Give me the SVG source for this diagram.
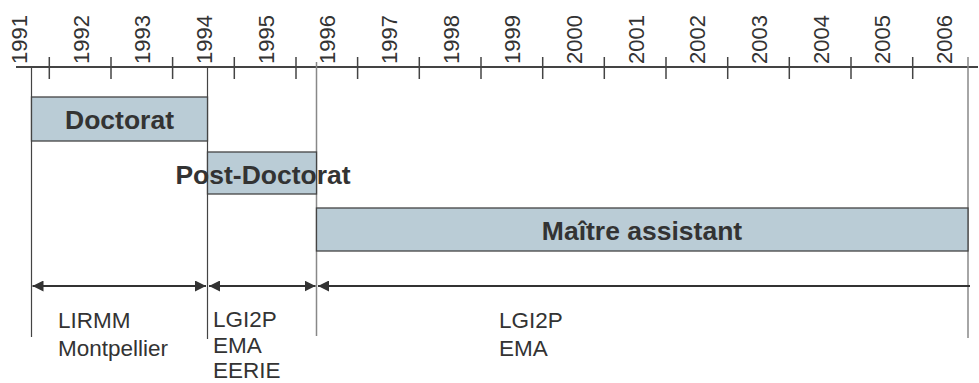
<svg xmlns="http://www.w3.org/2000/svg" width="979" height="383" viewBox="0 0 979 383">
<style>
.yr{font-family:"Liberation Sans",Arial,sans-serif;font-size:22px;fill:#333}
.bar{fill:#BACCD6;stroke:#444;stroke-width:1.3}
.bl{font-family:"Liberation Sans",Arial,sans-serif;font-size:26.5px;font-weight:bold;fill:#333;text-anchor:middle}
.lb{font-family:"Liberation Sans",Arial,sans-serif;font-size:22.5px;fill:#333}
.tick{stroke:#444;stroke-width:1.5}
.vd{stroke:#444;stroke-width:1.2}
.vg{stroke:#888;stroke-width:1.5}
.arr{stroke:#333;stroke-width:2;fill:none;marker-end:url(#ah);marker-start:url(#ah)}
</style>
<defs>
<marker id="ah" viewBox="0 0 11 11" refX="11" refY="5.5" markerWidth="11" markerHeight="11" markerUnits="userSpaceOnUse" orient="auto-start-reverse">
<path d="M0,0 L11,5.5 L0,11 z" fill="#333"/>
</marker>
</defs>
<g id="axis">
<line x1="16" y1="67" x2="978" y2="67" stroke="#444" stroke-width="2"/>
<line class="tick" x1="49.3" y1="57" x2="49.3" y2="79"/>
<line class="tick" x1="111" y1="57" x2="111" y2="79"/>
<line class="tick" x1="172.6" y1="57" x2="172.6" y2="79"/>
<line class="tick" x1="234.3" y1="57" x2="234.3" y2="79"/>
<line class="tick" x1="296" y1="57" x2="296" y2="79"/>
<line class="tick" x1="357.6" y1="57" x2="357.6" y2="79"/>
<line class="tick" x1="419.3" y1="57" x2="419.3" y2="79"/>
<line class="tick" x1="481" y1="57" x2="481" y2="79"/>
<line class="tick" x1="542.7" y1="57" x2="542.7" y2="79"/>
<line class="tick" x1="604.3" y1="57" x2="604.3" y2="79"/>
<line class="tick" x1="666" y1="57" x2="666" y2="79"/>
<line class="tick" x1="727.7" y1="57" x2="727.7" y2="79"/>
<line class="tick" x1="789.3" y1="57" x2="789.3" y2="79"/>
<line class="tick" x1="851" y1="57" x2="851" y2="79"/>
<line class="tick" x1="912.7" y1="57" x2="912.7" y2="79"/>
<text class="yr" transform="translate(27,64) rotate(-90)">1991</text>
<text class="yr" transform="translate(88.7,64) rotate(-90)">1992</text>
<text class="yr" transform="translate(150.3,64) rotate(-90)">1993</text>
<text class="yr" transform="translate(212,64) rotate(-90)">1994</text>
<text class="yr" transform="translate(273.7,64) rotate(-90)">1995</text>
<text class="yr" transform="translate(335.3,64) rotate(-90)">1996</text>
<text class="yr" transform="translate(397,64) rotate(-90)">1997</text>
<text class="yr" transform="translate(458.7,64) rotate(-90)">1998</text>
<text class="yr" transform="translate(520.4,64) rotate(-90)">1999</text>
<text class="yr" transform="translate(582,64) rotate(-90)">2000</text>
<text class="yr" transform="translate(643.7,64) rotate(-90)">2001</text>
<text class="yr" transform="translate(705.4,64) rotate(-90)">2002</text>
<text class="yr" transform="translate(767,64) rotate(-90)">2003</text>
<text class="yr" transform="translate(828.7,64) rotate(-90)">2004</text>
<text class="yr" transform="translate(890.4,64) rotate(-90)">2005</text>
<text class="yr" transform="translate(952,64) rotate(-90)">2006</text>
</g>
<g id="guides">
<line class="vd" x1="31.5" y1="67" x2="31.5" y2="337"/>
<line class="vd" x1="207.5" y1="67" x2="207.5" y2="339"/>
<line class="vg" x1="316.5" y1="62" x2="316.5" y2="336"/>
<line class="vg" x1="968" y1="57" x2="968" y2="338"/>
</g>
<g id="doctorat">
<rect class="bar" x="31.5" y="97" width="176" height="44"/>
<text class="bl" x="119.5" y="128.5">Doctorat</text>
</g>
<g id="post-doctorat">
<rect class="bar" x="207.5" y="152" width="109" height="42"/>
<text class="bl" x="263" y="184">Post-Doctorat</text>
</g>
<g id="maitre-assistant">
<rect class="bar" x="316.5" y="208" width="651.5" height="43"/>
<text class="bl" x="642" y="240">Maître assistant</text>
</g>
<g id="connectors">
<line class="arr" x1="32.5" y1="286" x2="206" y2="286"/>
<line class="arr" x1="209" y1="286" x2="315.5" y2="286"/>
<line class="arr" x1="318" y1="286" x2="970" y2="286" style="marker-end:none"/>
</g>
<g id="places">
<text class="lb"><tspan x="58" y="328">LIRMM</tspan><tspan x="58" y="356">Montpellier</tspan></text>
<text class="lb"><tspan x="213" y="327">LGI2P</tspan><tspan x="213" y="353">EMA</tspan><tspan x="213" y="378">EERIE</tspan></text>
<text class="lb"><tspan x="499" y="328">LGI2P</tspan><tspan x="499" y="356">EMA</tspan></text>
</g>
</svg>
